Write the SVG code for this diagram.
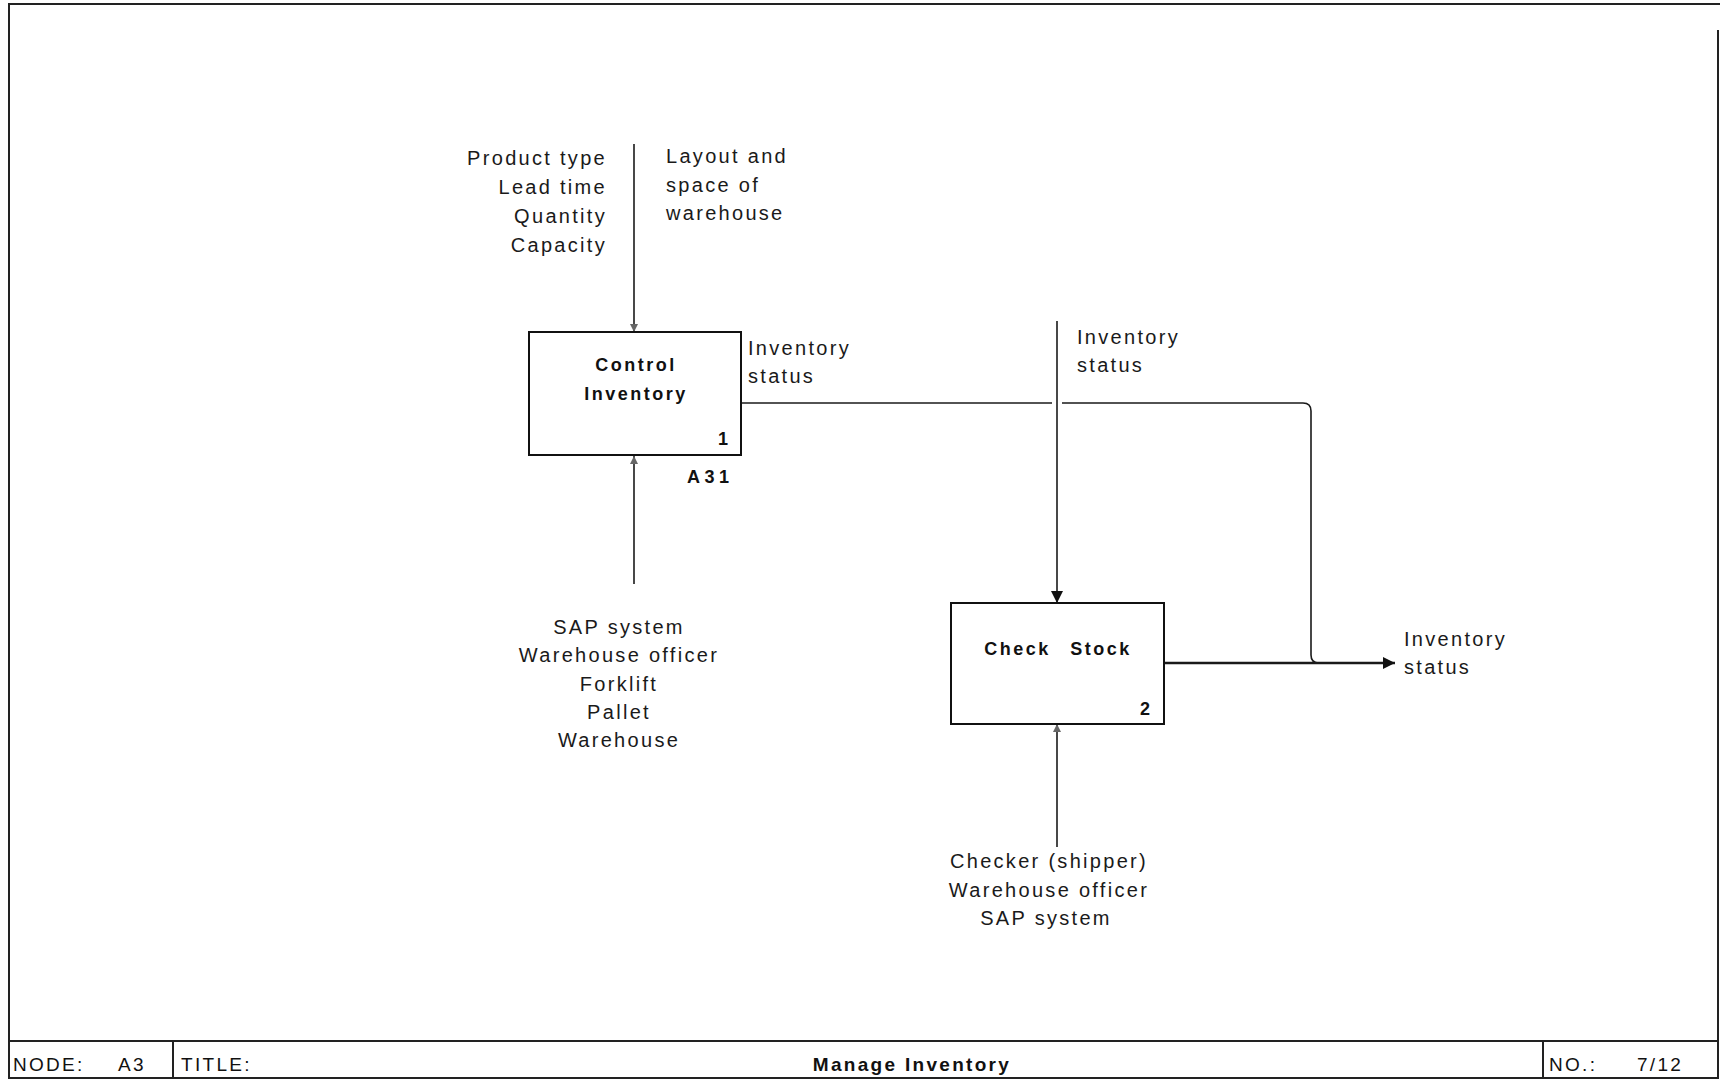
<svg xmlns="http://www.w3.org/2000/svg" width="1720" height="1080" viewBox="0 0 1720 1080">
  <style>
    .frame { fill: none; stroke: #222; stroke-width: 2; }
    .box { fill: #fff; stroke: #111; stroke-width: 2; }
    .lbl { font-family: "Liberation Sans", Arial, sans-serif; font-size: 20px; letter-spacing: 2.3px; fill: #1a1a1a; }
    .title { font-family: "Liberation Sans", Arial, sans-serif; font-size: 18px; font-weight: bold; letter-spacing: 2.5px; fill: #111; }
    .num { font-family: "Liberation Sans", Arial, sans-serif; font-size: 18px; font-weight: bold; fill: #111; }
    .bar { font-family: "Liberation Sans", Arial, sans-serif; font-size: 19px; letter-spacing: 2.3px; fill: #111; }
    .conn { fill: none; stroke: #1a1a1a; stroke-width: 1.6; }
    .thick { stroke-width: 2.6; }
  </style>
  <defs>
    <marker id="arrowBig" viewBox="0 0 12 12" refX="12" refY="6" markerWidth="12" markerHeight="12" markerUnits="userSpaceOnUse" orient="auto">
      <path d="M0,0 L12,6 L0,12 Z" fill="#111"/>
    </marker>
    <marker id="arrowSmall" viewBox="0 0 8 8" refX="8" refY="4" markerWidth="8" markerHeight="8" markerUnits="userSpaceOnUse" orient="auto">
      <path d="M0,0 L8,4 L0,8 Z" fill="#666"/>
    </marker>
  </defs>
  <rect width="1720" height="1080" fill="#fff"/>

  <!-- outer frame and title bar -->
  <g id="frame">
    <path class="frame" d="M9,1079 V4 H1720"/>
    <path class="frame" d="M1718,30 V1079"/>
    <path class="frame" d="M9,1041 H1718 M9,1078 H1718 M173,1041 V1078 M1543,1041 V1078"/>
    <text class="bar" x="13" y="1071">NODE:</text>
    <text class="bar" x="118" y="1071">A3</text>
    <text class="bar" x="181" y="1071">TITLE:</text>
    <text class="bar" x="912" y="1071" text-anchor="middle" font-weight="bold" letter-spacing="3.5">Manage Inventory</text>
    <text class="bar" x="1549" y="1071">NO.:</text>
    <text class="bar" x="1637" y="1071">7/12</text>
  </g>

  <!-- connectors -->
  <g id="connectors">
    <line class="conn" x1="634" y1="144" x2="634" y2="332" marker-end="url(#arrowSmall)"/>
    <line class="conn" x1="634" y1="584" x2="634" y2="456" marker-end="url(#arrowSmall)"/>
    <path class="conn" d="M741,403 H1052"/>
    <path class="conn" d="M1062,403 H1303 Q1311,403 1311,411 V655 Q1311,663 1319,663"/>
    <line class="conn" x1="1057" y1="321" x2="1057" y2="603" marker-end="url(#arrowBig)"/>
    <line class="conn thick" x1="1164" y1="663" x2="1395" y2="663" marker-end="url(#arrowBig)"/>
    <line class="conn" x1="1057" y1="847" x2="1057" y2="724" marker-end="url(#arrowSmall)"/>
  </g>

  <!-- node 1 -->
  <g id="node-A31">
    <rect class="box" x="529" y="332" width="212" height="123"/>
    <text class="title" x="636" y="371" text-anchor="middle">Control</text>
    <text class="title" x="636" y="400" text-anchor="middle">Inventory</text>
    <text class="num" x="728" y="445" text-anchor="end">1</text>
    <text class="num" x="687" y="483" letter-spacing="4.5">A31</text>
  </g>

  <!-- node 2 -->
  <g id="node-2">
    <rect class="box" x="951" y="603" width="213" height="121"/>
    <text class="title" x="1058" y="655" text-anchor="middle" word-spacing="12">Check Stock</text>
    <text class="num" x="1150" y="715" text-anchor="end">2</text>
  </g>

  <!-- labels -->
  <g id="labels">
    <text class="lbl" x="607" y="165" text-anchor="end">Product type</text>
    <text class="lbl" x="607" y="194" text-anchor="end">Lead time</text>
    <text class="lbl" x="607" y="223" text-anchor="end">Quantity</text>
    <text class="lbl" x="607" y="252" text-anchor="end">Capacity</text>

    <text class="lbl" x="666" y="163">Layout and</text>
    <text class="lbl" x="666" y="192">space of</text>
    <text class="lbl" x="666" y="220">warehouse</text>

    <text class="lbl" x="748" y="355">Inventory</text>
    <text class="lbl" x="748" y="383">status</text>

    <text class="lbl" x="1077" y="344">Inventory</text>
    <text class="lbl" x="1077" y="372">status</text>

    <text class="lbl" x="1404" y="646">Inventory</text>
    <text class="lbl" x="1404" y="674">status</text>

    <text class="lbl" x="619" y="634" text-anchor="middle">SAP system</text>
    <text class="lbl" x="619" y="662" text-anchor="middle">Warehouse officer</text>
    <text class="lbl" x="619" y="691" text-anchor="middle">Forklift</text>
    <text class="lbl" x="619" y="719" text-anchor="middle">Pallet</text>
    <text class="lbl" x="619" y="747" text-anchor="middle">Warehouse</text>

    <text class="lbl" x="1049" y="868" text-anchor="middle">Checker (shipper)</text>
    <text class="lbl" x="1049" y="897" text-anchor="middle">Warehouse officer</text>
    <text class="lbl" x="1046" y="925" text-anchor="middle">SAP system</text>
  </g>
</svg>
